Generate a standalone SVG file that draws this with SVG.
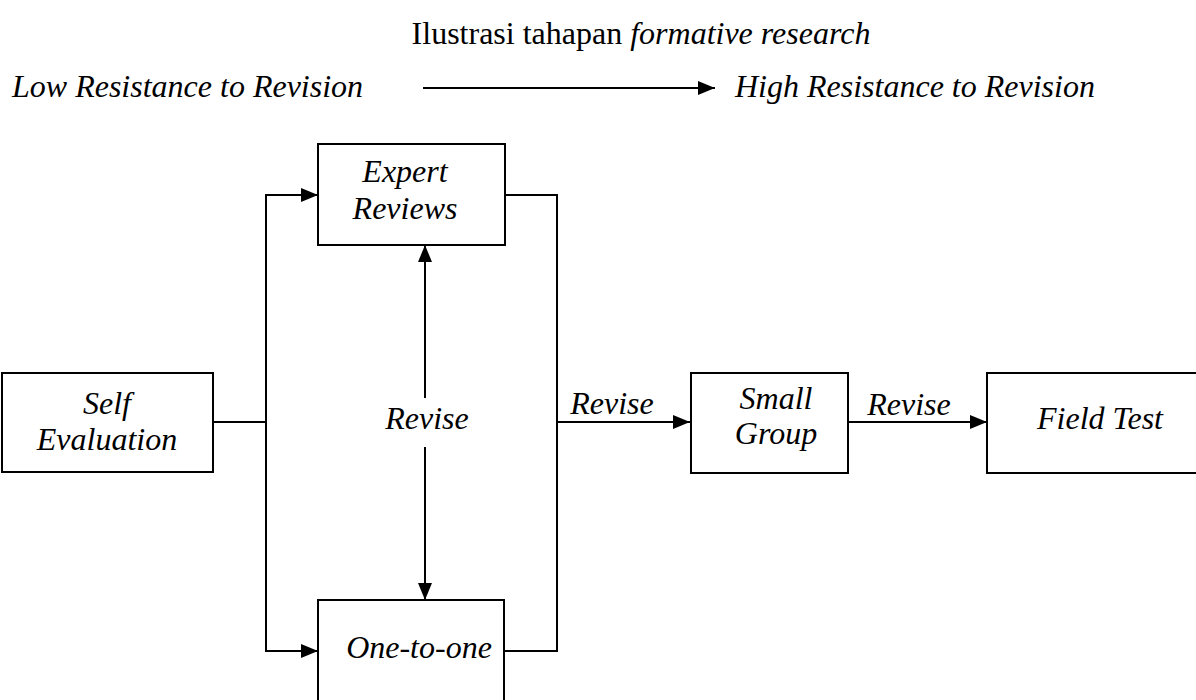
<svg xmlns="http://www.w3.org/2000/svg" width="1196" height="700" viewBox="0 0 1196 700">
<style>
.i{font-style:italic}
.m{text-anchor:middle}
.box{fill:#fff;stroke:#000;stroke-width:2}
.ln{fill:none;stroke:#000;stroke-width:2}
</style>
<defs>
<marker id="ah" markerUnits="userSpaceOnUse" markerWidth="17" markerHeight="14" refX="17" refY="7" orient="auto">
<path d="M0,0 L17,7 L0,14 z" fill="#000"/>
</marker>
</defs>
<rect width="1196" height="700" fill="#fff"/>
<g font-family="Liberation Serif, Times New Roman, serif" font-size="32" fill="#000">
<text x="641" y="44" class="m">Ilustrasi tahapan <tspan class="i">formative research</tspan></text>
<text x="12" y="97" class="i">Low Resistance to Revision</text>
<text x="735" y="97" class="i">High Resistance to Revision</text>
<g id="connectors">
<line class="ln" x1="423" y1="88" x2="715" y2="88" marker-end="url(#ah)"/>
<polyline class="ln" points="213,422 266,422"/>
<polyline class="ln" points="266,195 266,651"/>
<line class="ln" x1="265" y1="195" x2="318" y2="195" marker-end="url(#ah)"/>
<line class="ln" x1="265" y1="651" x2="318" y2="651" marker-end="url(#ah)"/>
<polyline class="ln" points="505,195 557,195 557,651 504,651"/>
<line class="ln" x1="557" y1="422" x2="690" y2="422" marker-end="url(#ah)"/>
<line class="ln" x1="848" y1="422" x2="987" y2="422" marker-end="url(#ah)"/>
<line class="ln" x1="425" y1="398" x2="425" y2="245" marker-end="url(#ah)"/>
<line class="ln" x1="425" y1="447" x2="425" y2="600" marker-end="url(#ah)"/>
<text x="427" y="429" class="i m">Revise</text>
<text x="612" y="414" class="i m">Revise</text>
<text x="909" y="415" class="i m">Revise</text>
</g>
<g id="self-evaluation">
<rect class="box" x="2" y="373" width="211" height="99"/>
<text x="107" y="414" class="i m">Self</text>
<text x="107" y="450" class="i m">Evaluation</text>
</g>
<g id="expert-reviews">
<rect class="box" x="318" y="144" width="187" height="101"/>
<text x="405" y="182" class="i m">Expert</text>
<text x="405" y="219" class="i m">Reviews</text>
</g>
<g id="one-to-one">
<rect class="box" x="318" y="600" width="186" height="110"/>
<text x="419" y="658" class="i m">One-to-one</text>
</g>
<g id="small-group">
<rect class="box" x="691" y="373" width="157" height="100"/>
<text x="776" y="409" class="i m">Small</text>
<text x="776" y="444" class="i m">Group</text>
</g>
<g id="field-test">
<rect class="box" x="987" y="373" width="220" height="100"/>
<text x="1100" y="429" class="i m">Field Test</text>
</g>
</g>
</svg>
